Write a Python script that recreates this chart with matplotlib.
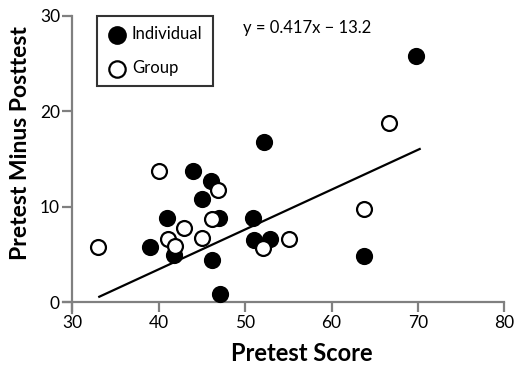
import numpy as np
import matplotlib.pyplot as plt

plt.rcParams['font.family'] = ['Lato', 'DejaVu Sans']

# Individual (filled)
ind_x = [69.8, 52.2, 43.9, 46.0, 45.05, 40.9, 47.0, 50.9, 39.0, 41.7, 51.0, 52.9, 46.2, 47.1, 63.8]
ind_y = [25.8, 16.8, 13.8, 12.7, 10.8, 8.8, 8.9, 8.9, 5.8, 5.0, 6.5, 6.6, 4.5, 0.9, 4.9]

# Group (open)
grp_x = [66.7, 40.0, 46.9, 46.1, 42.9, 41.1, 41.9, 45.0, 33.0, 52.0, 55.1, 63.8]
grp_y = [18.8, 13.8, 11.8, 8.75, 7.8, 6.7, 5.9, 6.8, 5.8, 5.7, 6.6, 9.8]

slope = 0.417
intercept = -13.2
fit_x = [33.1, 70.2]

fig = plt.figure(figsize=(5.15, 3.66), dpi=100)
ax = fig.add_axes([0.1223, 0.1448, 0.857, 0.8115])

ax.scatter(ind_x, ind_y, s=125, c='black', edgecolors='black', linewidths=1.2, label='Individual', zorder=3)
ax.scatter(grp_x, grp_y, s=115, c='white', edgecolors='black', linewidths=1.6, label='Group', zorder=3)

fx = np.array(fit_x)
ax.plot(fx, slope * fx + intercept, color='black', lw=1.6, zorder=2)

ax.set_xlim(28.9, 80)
ax.set_ylim(-1.1, 30)
ax.set_xticks([30, 40, 50, 60, 70, 80])
ax.set_yticks([0, 10, 20, 30])

for s in ['top', 'right']:
    ax.spines[s].set_visible(False)
ax.spines['bottom'].set_position(('data', 0))
ax.spines['left'].set_position(('data', 30))
for s in ['bottom', 'left']:
    ax.spines[s].set_color('#808080')
    ax.spines[s].set_linewidth(1.6)
ax.tick_params(axis='both', color='#808080', width=1.6, length=7, labelsize=12.5, direction='out', pad=2)

ax.set_xlabel('Pretest Score', fontsize=17, fontweight='bold')
ax.set_ylabel('Pretest Minus Posttest', fontsize=16.5, fontweight='bold')
ax.xaxis.label.set_verticalalignment('center')
ax.yaxis.label.set_verticalalignment('center')
ax.xaxis.set_label_coords(0.54, -0.135)
ax.yaxis.set_label_coords(-0.097, 0.572)

ax.text(0.553, 0.96, 'y = 0.417x \u2212 13.2', transform=ax.transAxes, fontsize=12, ha='center', va='center')

leg = ax.legend(loc='upper left', bbox_to_anchor=(0.077, 1.0), fontsize=12, frameon=True,
                fancybox=False, edgecolor='black', handletextpad=0.3, borderpad=0.6,
                labelspacing=1.1, handlelength=1.2, borderaxespad=0, markerscale=1.1)
leg.get_frame().set_linewidth(1.5)

fig.savefig('out.png', dpi=100)
